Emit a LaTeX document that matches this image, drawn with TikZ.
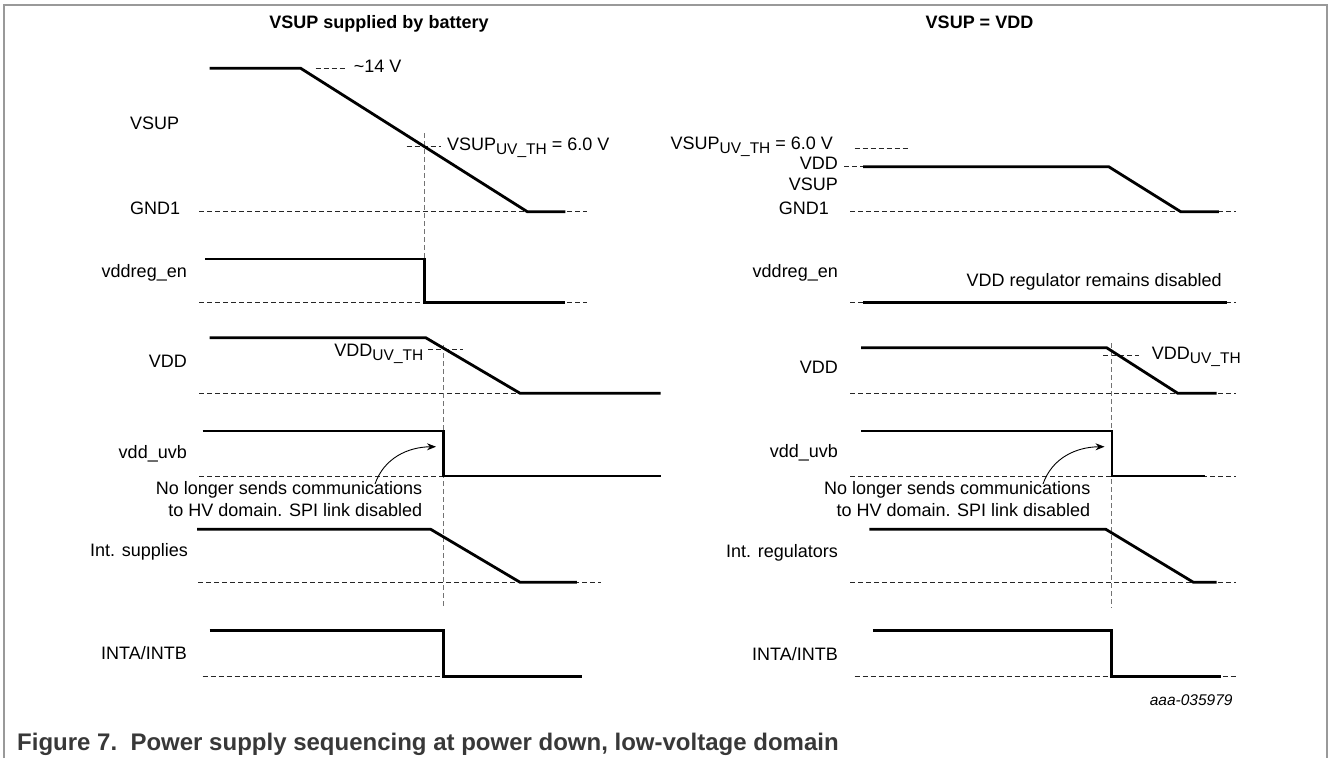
\documentclass[tikz,border=0pt]{standalone}
\usepackage{fontspec}
\setmainfont{Liberation Sans}
\usetikzlibrary{arrows.meta}
\newcommand{\mysub}[1]{\raisebox{-0.45ex}{\fontsize{15.5}{15.5}\selectfont #1}}
\begin{document}
\begin{tikzpicture}[x=1pt,y=-1pt,
  sig/.style={line width=2.8pt,line join=miter},
  refl/.style={line width=0.9pt,dash pattern=on 5pt off 3pt,black!85},
  vref/.style={line width=0.9pt,dash pattern=on 5pt off 3pt,black!55},
  lbl/.style={font=\fontsize{18}{21}\selectfont,inner sep=0pt},
  ttl/.style={font=\fontsize{18}{22}\selectfont\bfseries,inner sep=0pt},
  note/.style={-{Stealth[length=9pt,width=7pt]},line width=0.9pt}]
\useasboundingbox (0,0) rectangle (1328,758);
% frame
\draw[black!40,line width=1.5pt] (4,758) -- (4,5) -- (1327,5) -- (1327,758);
% titles
\node[ttl,anchor=mid] (t1) at (379,26) {VSUP supplied by battery};
\node[ttl,anchor=mid] (t2) at (979.5,26) {VSUP = VDD};
% ===== left panel =====
\draw[refl] (199,211.7) -- (586.6,211.7);
\draw[refl] (315.5,68.3) -- (347.3,68.3);
\draw[refl] (406.6,146.7) -- (440.5,146.7);
\draw[refl] (199,302.3) -- (586.6,302.3);
\draw[refl] (199,393.3) -- (520.1,393.3);
\draw[refl] (428,349.3) -- (463,349.3);
\draw[refl] (199,476) -- (443.4,476);
\draw[refl] (198.2,582.3) -- (601.4,582.3);
\draw[refl] (202.5,676.7) -- (443.4,676.7);
\draw[vref] (424.8,133.3) -- (424.8,259);
\draw[vref] (443.4,345) -- (443.4,608.3);
\draw[sig] (209.7,68.3) -- (300.7,68.3) -- (527.3,211.7) -- (565.4,211.7);
\draw[sig] (205.4,259) -- (424.8,259) -- (424.8,302.3) -- (564.6,302.3);
\draw[sig] (209.7,337.7) -- (425.7,337.7) -- (520.1,393.3) -- (660.7,393.3);
\draw[sig] (202.5,431) -- (443.4,431) -- (443.4,476) -- (660.7,476);
\draw[sig] (197,529.3) -- (430.7,529.3) -- (520.1,582.3) -- (576.9,582.3);
\draw[sig] (209.7,630.7) -- (443.4,630.7) -- (443.4,676.7) -- (581.5,676.7);
\node[lbl,anchor=mid west] (l14) at (353.7,70) {\textasciitilde14 V};
\node[lbl,anchor=mid west] (lth) at (446.8,148) {VSUP\mysub{UV\_TH} = 6.0 V};
\node[lbl,anchor=mid east] (lvddth) at (423.5,354) {VDD\mysub{UV\_TH}};
\node[lbl,anchor=mid west] (lvsup) at (130,127) {VSUP};
\node[lbl,anchor=mid west] (lgnd) at (130,212) {GND1};
\node[lbl,anchor=mid east] (lreg) at (187,275) {vddreg\_en};
\node[lbl,anchor=mid east] (lvdd) at (187,365) {VDD};
\node[lbl,anchor=mid east] (luvb) at (187,456) {vdd\_uvb};
\node[lbl,anchor=mid east] (lint) at (188,554) {Int. supplies};
\node[lbl,anchor=mid east] (linta) at (187,657) {INTA/INTB};
\node[lbl,anchor=mid east] (nA1) at (422.3,492) {No longer sends communications};
\node[lbl,anchor=mid east] (nA2) at (422.3,513.5) {to HV domain. SPI link disabled};
\coordinate (arrA) at (375,484);
\coordinate (tipA) at (436,446.7);
\draw[note] (arrA) .. controls (384,458) and (408,447) .. (tipA);
% ===== right panel =====
\draw[refl] (854.6,148.5) -- (909.7,148.5);
\draw[refl] (844,166.7) -- (863,166.7);
\draw[refl] (850.4,211.7) -- (1235.8,211.7);
\draw[refl] (850.4,302.3) -- (1235.8,302.3);
\draw[refl] (850.4,393.3) -- (1235.8,393.3);
\draw[refl] (1103.3,355.7) -- (1139.3,355.7);
\draw[refl] (850.4,476) -- (1235.8,476);
\draw[refl] (850.4,582.3) -- (1235.8,582.3);
\draw[refl] (854.6,676.7) -- (1235.8,676.7);
\draw[vref] (1111.7,343.3) -- (1111.7,608.3);
\draw[sig] (863,166.7) -- (1108.7,166.7) -- (1180.7,211.7) -- (1218.8,211.7);
\draw[sig] (863,302.3) -- (1226.5,302.3);
\draw[sig] (861,347.7) -- (1106.6,347.7) -- (1177.8,393.3) -- (1216.7,393.3);
\draw[sig] (861,431) -- (1112,431) -- (1112,476) -- (1205.3,476);
\draw[sig] (869.4,529.3) -- (1105.8,529.3) -- (1193.4,582.3) -- (1216.7,582.3);
\draw[sig] (872.8,630.7) -- (1111.7,630.7) -- (1111.7,676.7) -- (1221,676.7);
\node[lbl,anchor=mid west] (rth) at (670.4,147) {VSUP\mysub{UV\_TH} = 6.0 V};
\node[lbl,anchor=mid east] (rvdd1) at (838,166.7) {VDD};
\node[lbl,anchor=mid east] (rvsup) at (838,188) {VSUP};
\node[lbl,anchor=mid east] (rgnd) at (829,211.7) {GND1};
\node[lbl,anchor=mid east] (rreg) at (838,275) {vddreg\_en};
\node[lbl,anchor=mid east] (rregtxt) at (1222,284) {VDD regulator remains disabled};
\node[lbl,anchor=mid east] (rvdd) at (838,371) {VDD};
\node[lbl,anchor=mid west] (rvddth) at (1151.7,357) {VDD\mysub{UV\_TH}};
\node[lbl,anchor=mid east] (ruvb) at (838,455) {vdd\_uvb};
\node[lbl,anchor=mid east] (nB1) at (1090.5,492.3) {No longer sends communications};
\node[lbl,anchor=mid east] (nB2) at (1090.5,513.5) {to HV domain. SPI link disabled};
\coordinate (arrB) at (1043,484);
\coordinate (tipB) at (1104.5,446.7);
\draw[note] (arrB) .. controls (1052,458) and (1076,447) .. (tipB);
\node[lbl,anchor=mid east] (rint) at (838,555) {Int. regulators};
\node[lbl,anchor=mid east] (rinta) at (838,658) {INTA/INTB};
\node[inner sep=0pt,anchor=mid east,font=\fontsize{15.5}{18}\selectfont\itshape] (code) at (1232.7,703) {aaa-035979};
\node[inner sep=0pt,anchor=base west,text=black!78,font=\fontsize{24}{28}\selectfont\bfseries] (cap) at (17,750) {Figure 7.\ \ Power supply sequencing at power down, low-voltage domain};
\end{tikzpicture}
\end{document}
